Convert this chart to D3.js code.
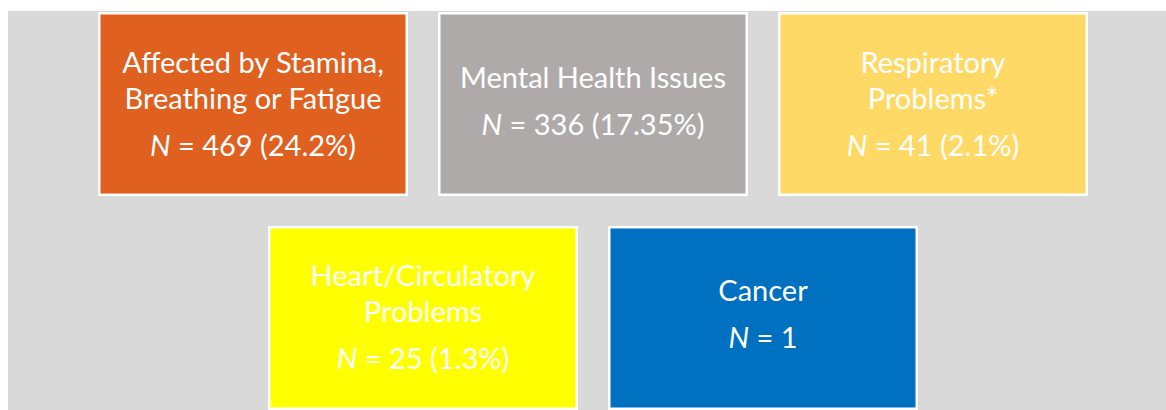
<!DOCTYPE html>
<html>
<head>
<meta charset="utf-8">
<script src="https://cdn.jsdelivr.net/npm/d3@7"></script>
<style>
  body { margin: 0; background: #fff; }
  svg { display: block; }
</style>
</head>
<body>
<svg></svg>
<script>
// categories and values
const titles = [
    ['Affected by Stamina,', 'Breathing or Fatigue'],
    ['Mental Health Issues'],
    ['Respiratory', 'Problems*'],
    ['Heart/Circulatory', 'Problems'],
    ['Cancer']
]
const counts = [469, 336, 41, 25, 1]
const percents = ['24.2%', '17.35%', '2.1%', '1.3%', null]
const rows = [0, 0, 0, 1, 1]
const colors = ['#e0601f', '#aeaaaa', '#ffd966', '#ffff00', '#0070c0']

const width = 1166
const height = 410
const svg = d3.select('svg').attr('width', width).attr('height', height)

svg.append('rect')
    .attr('x', 8).attr('y', 11)
    .attr('width', width - 8).attr('height', height - 11)
    .attr('fill', '#d9d9d9')

const boxes = titles.map((t, i) => ({
    title: t, count: counts[i], pct: percents[i], row: rows[i], color: colors[i],
    col: rows.slice(0, i).filter(r => r === rows[i]).length
}))

const yScale = d3.scaleBand().domain([0, 1]).range([12, 410]).paddingInner(0.14)
const xScales = [
    d3.scaleBand().domain([0, 1, 2]).range([98, 1088]).paddingInner(30 / 340),
    d3.scaleBand().domain([0, 1]).range([268, 918]).paddingInner(30 / 340)
]

const g = svg.selectAll('g.box')
    .data(boxes)
    .enter()
    .append('g')
    .attr('class', 'box')
    .attr('transform', d => `translate(${xScales[d.row](d.col)}, ${yScale(d.row)})`)

g.append('rect')
    .attr('x', 1.25).attr('y', 1.25)
    .attr('width', d => xScales[d.row].bandwidth() - 2.5)
    .attr('height', yScale.bandwidth() - 2.5)
    .attr('fill', d => d.color)
    .attr('stroke', '#fff')
    .attr('stroke-width', 2.5)

const lineGap = 36
const nGap = 47

g.each(function (d) {
    const cx = xScales[d.row].bandwidth() / 2
    const blockH = (d.title.length - 1) * lineGap + nGap
    const first = yScale.bandwidth() / 2 - blockH / 2 + (d.title.length > 1 ? 10 : 7)
    const sel = d3.select(this)
    const text = sel.append('text')
        .attr('text-anchor', 'middle')
        .attr('fill', '#fff')
        .style('font-family', 'Lato, "Open Sans", sans-serif')
        .style('font-size', '29px')
    d.title.forEach((line, k) => {
        text.append('tspan').attr('x', cx).attr('y', first + k * lineGap).text(line)
    })
    const n = text.append('tspan')
        .attr('x', cx)
        .attr('y', first + (d.title.length - 1) * lineGap + nGap)
    n.append('tspan').style('font-style', 'italic').text('N')
    n.append('tspan').text(' = ' + d.count + (d.pct ? ' (' + d.pct + ')' : ''))
})
</script>
</body>
</html>
